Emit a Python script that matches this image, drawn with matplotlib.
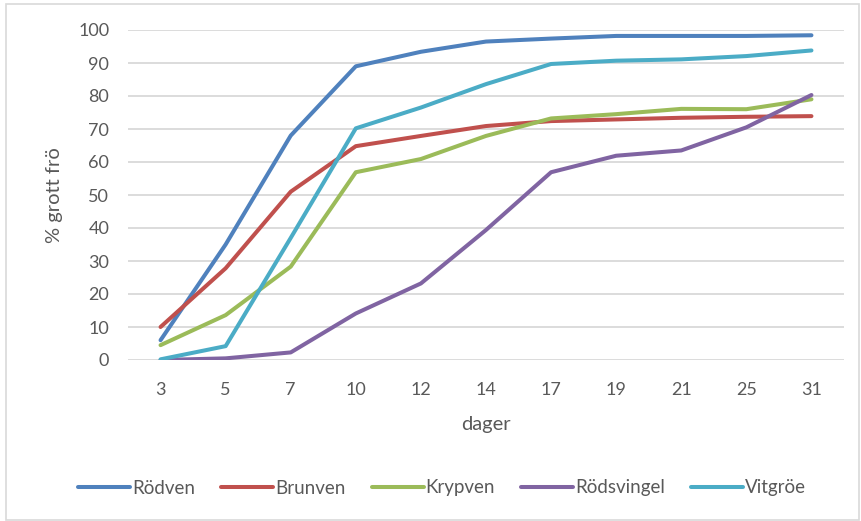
import matplotlib.pyplot as plt
from matplotlib.patches import Rectangle

# germination data (% germinated seeds per day of count)
days = ["3", "5", "7", "10", "12", "14", "17", "19", "21", "25", "31"]
rodven = [6, 35, 68, 89, 93.4, 96.5, 97.4, 98.2, 98.2, 98.2, 98.4]
brunven = [10, 27.8, 51, 64.8, 67.9, 70.9, 72.4, 72.9, 73.4, 73.7, 73.9]
krypven = [4.5, 13.6, 28.3, 56.9, 60.9, 67.9, 73.2, 74.5, 76.1, 76, 79]
rodsvingel = [0, 0.5, 2.3, 14.1, 23.2, 39.4, 56.9, 61.9, 63.5, 70.5, 80.3]
vitgroe = [0.2, 4.2, 37, 70.2, 76.5, 83.6, 89.7, 90.7, 91.1, 92.1, 93.8]

series = [
    ("Rödven", rodven, "#4F81BD"),
    ("Brunven", brunven, "#C0504D"),
    ("Krypven", krypven, "#9BBB59"),
    ("Rödsvingel", rodsvingel, "#8064A2"),
    ("Vitgröe", vitgroe, "#4BACC6"),
]

plt.rcParams["font.family"] = ["Lato", "DejaVu Sans"]
txt = "#595959"

fig = plt.figure(figsize=(8.61, 5.21), dpi=100)
ax = fig.add_axes([128 / 861, 161 / 521, 716 / 861, 330 / 521])

x = range(len(days))
for name, vals, color in series:
    ax.plot(x, vals, color=color, lw=2.9, solid_capstyle="round",
            solid_joinstyle="round", label=name)

ax.set_xlim(-0.5, len(days) - 0.5)
ax.set_ylim(0, 100)
ax.set_yticks(range(0, 101, 10))
ax.set_xticks(list(x))
ax.set_xticklabels(days)
ax.yaxis.grid(True, color="#D9D9D9", lw=1.3)
ax.set_axisbelow(True)
for s in ax.spines.values():
    s.set_visible(False)
ax.tick_params(axis="both", length=0, labelsize=13, colors=txt)
ax.tick_params(axis="x", pad=16)
ax.tick_params(axis="y", pad=13.5)

ax.set_xlabel("dager", fontsize=14.5, color=txt, labelpad=13)
ax.set_ylabel("% grott frö", fontsize=14.5, color=txt)
ax.yaxis.set_label_coords(-0.091, 0.5)

fig.legend(loc="center", bbox_to_anchor=(442 / 861, 1 - 488 / 521), ncol=5,
           frameon=False, fontsize=13.5, handlelength=2.77, handletextpad=0.1,
           columnspacing=1.4, labelcolor=txt)

# light frame around the whole chart
fig.patches.append(Rectangle((6 / 861, 1 / 521), 853 / 861, 516 / 521,
                             transform=fig.transFigure, fill=False,
                             ec="#D9D9D9", lw=1.2))

fig.savefig("out.png", dpi=100)
